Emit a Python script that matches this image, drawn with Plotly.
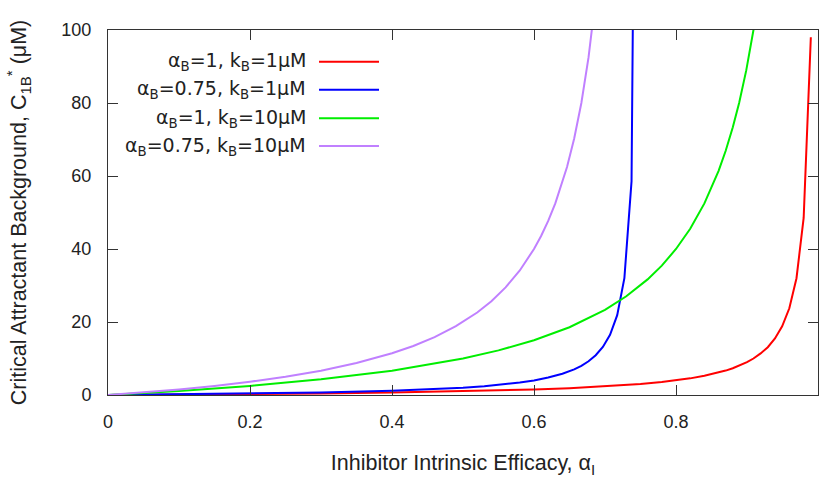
import plotly.graph_objects as go

# Critical attractant background vs. inhibitor intrinsic efficacy
# Series: (alpha_B, k_B) combinations

red_x = [0, 0.1, 0.2, 0.3, 0.4, 0.5, 0.6, 0.65, 0.7, 0.75, 0.78, 0.8, 0.82,
         0.84, 0.86, 0.87, 0.88, 0.89, 0.9, 0.9091, 0.9192, 0.9293, 0.9394,
         0.9495, 0.9596, 0.9697, 0.9798, 0.9899]
red_y = [0, 0.11, 0.25, 0.43, 0.67, 1.0, 1.5, 1.86, 2.33, 3.0, 3.55, 4.0, 4.56,
         5.25, 6.14, 6.69, 7.33, 8.09, 9.0, 10.0, 11.4, 13.1, 15.5,
         18.8, 23.75, 32.0, 48.5, 98.0]

blue_x = [0, 0.1, 0.2, 0.3, 0.4, 0.45, 0.5, 0.53, 0.56, 0.58, 0.6, 0.62, 0.64,
          0.6566, 0.6667, 0.6768, 0.6869, 0.697, 0.7071, 0.7172, 0.7273,
          0.7374, 0.7475]
blue_y = [0, 0.154, 0.364, 0.667, 1.143, 1.5, 2.0, 2.41, 2.95, 3.41, 4.0, 4.77,
          5.82, 7.03, 8.0, 9.25, 10.89, 13.16, 16.47, 21.87, 32.0,
          58.6, 299.0]

green_x = [0, 0.1, 0.2, 0.3, 0.4, 0.5, 0.55, 0.6, 0.65, 0.7, 0.73, 0.76, 0.78,
           0.8, 0.82, 0.84, 0.86, 0.87, 0.88, 0.8889, 0.899, 0.9091, 0.9192]
green_y = [0, 1.11, 2.5, 4.29, 6.67, 10.0, 12.22, 15.0, 18.57, 23.33, 27.04,
           31.67, 35.45, 40.0, 45.56, 52.5, 61.43, 66.92, 73.33, 80.0, 89.0,
           100.0, 113.8]

purple_x = [0, 0.05, 0.1, 0.15, 0.2, 0.25, 0.3, 0.35, 0.4, 0.43, 0.46, 0.49,
            0.52, 0.54, 0.56, 0.58, 0.6, 0.61, 0.62, 0.63, 0.64, 0.6465,
            0.6566, 0.6667, 0.6768, 0.6869]
purple_y = [0, 0.71, 1.54, 2.5, 3.64, 5.0, 6.67, 8.75, 11.43, 13.44, 15.86,
            18.85, 22.61, 25.71, 29.47, 34.12, 40.0, 43.57, 47.69, 52.5, 58.18,
            62.46, 70.3, 80.0, 92.5, 108.9]

series_names = ["α<sub>B</sub>=1, k<sub>B</sub>=1μM",
                "α<sub>B</sub>=0.75, k<sub>B</sub>=1μM",
                "α<sub>B</sub>=1, k<sub>B</sub>=10μM",
                "α<sub>B</sub>=0.75, k<sub>B</sub>=10μM"]
series_colors = ["#ff0000", "#0000ff", "#00ee00", "#c080ff"]

x_ticks = [0, 0.2, 0.4, 0.6, 0.8, 1]
x_tick_text = ["0", "0.2", "0.4", "0.6", "0.8", "1"]
y_ticks = [0, 20, 40, 60, 80, 100]

fig = go.Figure()
for xs, ys, name, color in zip([red_x, blue_x, green_x, purple_x],
                               [red_y, blue_y, green_y, purple_y],
                               series_names, series_colors):
    fig.add_trace(go.Scatter(x=xs, y=ys, mode="lines", name=name,
                             line=dict(color=color, width=2),
                             showlegend=False))

# gnuplot-style key: right-aligned text with the line sample to its right
key_rows_y = [0.913, 0.836, 0.758, 0.682]
for name, color, ky in zip(series_names, series_colors, key_rows_y):
    fig.add_annotation(xref="paper", yref="paper", x=0.2817, y=ky,
                       text=name, showarrow=False, xanchor="right",
                       yanchor="middle",
                       font=dict(family="DejaVu Sans", size=19, color="#222"))
    fig.add_shape(type="line", xref="paper", yref="paper",
                  x0=0.2972, x1=0.3817, y0=ky, y1=ky,
                  line=dict(color=color, width=2))

axis_font = dict(family="Liberation Sans, Arial", size=18, color="#222")

fig.update_xaxes(range=[0, 1], tickvals=x_ticks, ticktext=x_tick_text,
                 ticks="inside", ticklen=10, tickcolor="#333",
                 showline=True, linecolor="#333", linewidth=1, mirror="ticks",
                 showgrid=False, zeroline=False, tickfont=axis_font,
                 ticklabelstandoff=10,
                 title=dict(text="Inhibitor Intrinsic Efficacy, α<sub>I</sub>",
                            font=dict(family="Liberation Sans, Arial", size=21.5,
                                      color="#222"),
                            standoff=24),
                 automargin=False)
fig.update_yaxes(range=[0, 100], tickvals=y_ticks,
                 ticks="inside", ticklen=10, tickcolor="#333",
                 showline=True, linecolor="#333", linewidth=1, mirror="ticks",
                 showgrid=False, zeroline=False, tickfont=axis_font,
                 ticklabelstandoff=12,
                 title=dict(text="Critical Attractant Background, C<sub>1B</sub><sup>*</sup> (μM)",
                            font=dict(family="Liberation Sans, Arial", size=21.5,
                                      color="#222"),
                            standoff=28),
                 automargin=False)

fig.update_layout(width=819, height=479,
                  margin=dict(l=108, r=1, t=30, b=84),
                  plot_bgcolor="white", paper_bgcolor="white")

fig.write_html("out.html")
